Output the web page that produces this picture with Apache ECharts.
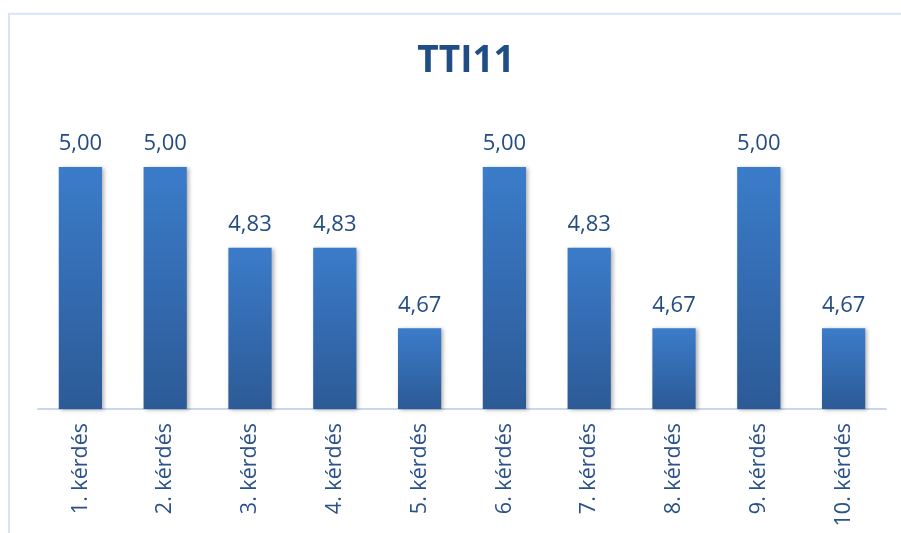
<!DOCTYPE html>
<html>
<head>
<meta charset="utf-8">
<script src="https://cdn.jsdelivr.net/npm/echarts@6/dist/echarts.min.js"></script>
<style>html,body{margin:0;padding:0;background:#fff;}#c{width:901px;height:533px;}</style>
</head>
<body>
<div id="c"></div>
<script>
const titleText = 'TTI11';
const categories = ['1. kérdés','2. kérdés','3. kérdés','4. kérdés','5. kérdés','6. kérdés','7. kérdés','8. kérdés','9. kérdés','10. kérdés'];
const values = [5.00, 5.00, 4.8333, 4.8333, 4.6667, 5.00, 4.8333, 4.6667, 5.00, 4.6667];
const yMin = 4.5;
const yMax = 5.0;

const chart = echarts.init(document.getElementById('c'), null, {renderer:'canvas'});
chart.setOption({
  backgroundColor: '#ffffff',
  animation: false,
  title: {
    text: titleText,
    left: 461, top: 38, textAlign: 'center',
    textStyle: {fontFamily: 'Open Sans', fontWeight: 'bold', fontSize: 37, color: '#1f4e87'}
  },
  graphic: [{
    type: 'rect', shape: {x: 9, y: 13.7, width: 1000, height: 1000},
    style: {fill: 'none', stroke: '#d8e3f3', lineWidth: 2}, silent: true, z: -1
  }],
  grid: {left: 38, right: 15, top: 167, bottom: 124, containLabel: false},
  xAxis: {
    type: 'category', data: categories,
    axisLine: {show: true, lineStyle: {color: '#c8d7ec', width: 2}},
    axisTick: {show: false},
    axisLabel: {rotate: 90, margin: 14, interval: 0, fontFamily: 'Open Sans', fontSize: 21.5, color: '#2a5189'}
  },
  yAxis: {
    type: 'value', min: yMin, max: yMax, show: false,
    splitLine: {show: false}
  },
  series: [{
    type: 'bar', data: values, barWidth: '51%',
    itemStyle: {
      color: new echarts.graphic.LinearGradient(0,0,0,1,[{offset:0,color:'#3b7cca'},{offset:1,color:'#2c5a96'}]),
      shadowBlur: 4, shadowOffsetX: 2, shadowOffsetY: 1, shadowColor: 'rgba(0,0,0,0.3)'
    },
    label: {
      show: true, position: 'top', distance: 12,
      fontFamily: 'Open Sans', fontSize: 22, color: '#234c80',
      formatter: p => p.value.toFixed(2).replace('.', ',')
    }
  }]
});
</script>
</body>
</html>
